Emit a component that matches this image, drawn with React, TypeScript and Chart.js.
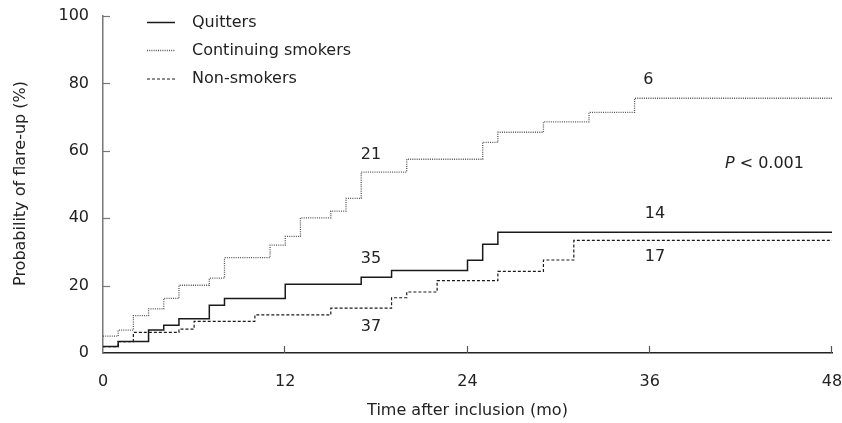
import React, { useEffect, useRef } from "react";
import { Chart, registerables } from "chart.js";

Chart.register(...registerables);

const FONT = '"DejaVu Sans", Verdana, sans-serif';
const TEXT = "#222222";

// Kaplan-Meier step data (month at which value starts, cumulative %)
const quitterMonths = [0, 1, 3, 4, 5, 7, 8, 12, 17, 19, 24, 25, 26, 48];
const quitterPct = [1.9, 3.4, 6.8, 8.2, 10.2, 14.2, 16.2, 20.4, 22.5, 24.5, 27.5, 32.3, 35.8, 35.8];

const smokerMonths = [0, 1, 2, 3, 4, 5, 7, 8, 11, 12, 13, 15, 16, 17, 20, 25, 26, 29, 32, 35, 48];
const smokerPct = [5.0, 6.8, 11.1, 13.1, 16.2, 20.1, 22.2, 28.3, 32.0, 34.6, 40.1, 42.1, 45.9, 53.7, 57.5, 62.5, 65.5, 68.6, 71.4, 75.6, 75.6];

const nonSmokerMonths = [0, 1, 2, 5, 6, 10, 15, 19, 20, 22, 26, 29, 31, 48];
const nonSmokerPct = [1.9, 3.4, 6.1, 7.1, 9.4, 11.3, 13.3, 16.4, 18.1, 21.5, 24.2, 27.6, 33.4, 33.4];

const seriesNames = ["Quitters", "Continuing smokers", "Non-smokers"];

const xTicks = [0, 12, 24, 36, 48];
const yTicks = [0, 20, 40, 60, 80, 100];

// numbers at risk annotations
const riskLabels = ["21", "35", "37", "6", "14", "17"];
const riskMonths = [17.64, 17.64, 17.64, 35.9, 36.34, 36.34];
const riskPct = [58.8, 27.9, 7.7, 81.0, 41.2, 28.5];

const pValueText = " < 0.001";
const pValueMonth = 40.95;
const pValuePct = 56.2;

const xTitle = "Time after inclusion (mo)";
const yTitle = "Probability of flare-up (%)";

export default function App() {
  const ref = useRef<HTMLCanvasElement>(null);

  useEffect(() => {
    const canvas = ref.current;
    if (!canvas) return;
    const toXY = (xs: number[], ys: number[]) => xs.map((x, i) => ({ x, y: ys[i] }));

    const styles = [
      { color: "#1a1a1a", width: 1.5, dash: [] as number[] },
      { color: "#555555", width: 1.3, dash: [1, 1.2] },
      { color: "#1a1a1a", width: 1.2, dash: [3, 2] },
    ];
    const datas = [
      toXY(quitterMonths, quitterPct),
      toXY(smokerMonths, smokerPct),
      toXY(nonSmokerMonths, nonSmokerPct),
    ];

    const decor = {
      id: "decor",
      afterDraw(chart: any) {
        const ctx = chart.ctx as CanvasRenderingContext2D;
        const xs = chart.scales.x;
        const ys = chart.scales.y;
        const area = chart.chartArea;
        ctx.save();
        // inward ticks
        ctx.lineWidth = 1.2;
        ctx.strokeStyle = "#777777";
        yTicks.forEach((v) => {
          if (v === 0) return;
          const py = Math.round(ys.getPixelForValue(v)) + 0.5;
          ctx.beginPath();
          ctx.moveTo(area.left, py);
          ctx.lineTo(area.left + 7, py);
          ctx.stroke();
        });
        ctx.strokeStyle = "#555555";
        xTicks.forEach((v) => {
          if (v === 0) return;
          const px = Math.round(xs.getPixelForValue(v)) - 0.5;
          ctx.beginPath();
          ctx.moveTo(px, area.bottom);
          ctx.lineTo(px, area.bottom - 7);
          ctx.stroke();
        });

        // legend
        ctx.font = `16px ${FONT}`;
        ctx.textBaseline = "middle";
        ctx.textAlign = "left";
        const rowY = [22.5, 50.5, 79];
        seriesNames.forEach((name, i) => {
          const st = styles[i];
          ctx.strokeStyle = st.color;
          ctx.lineWidth = st.width;
          ctx.setLineDash(st.dash);
          ctx.beginPath();
          ctx.moveTo(147, rowY[i]);
          ctx.lineTo(175, rowY[i]);
          ctx.stroke();
          ctx.setLineDash([]);
          ctx.fillStyle = TEXT;
          ctx.fillText(name, 192, rowY[i]);
        });

        // risk numbers
        ctx.textAlign = "center";
        riskLabels.forEach((t, i) => {
          ctx.fillText(t, xs.getPixelForValue(riskMonths[i]), ys.getPixelForValue(riskPct[i]));
        });

        // p value
        ctx.textAlign = "left";
        const px = xs.getPixelForValue(pValueMonth);
        const py = ys.getPixelForValue(pValuePct);
        ctx.font = `italic 16px ${FONT}`;
        ctx.fillText("P", px, py);
        const w = ctx.measureText("P").width;
        ctx.font = `16px ${FONT}`;
        ctx.fillText(pValueText, px + w, py);

        // axis titles
        ctx.textAlign = "center";
        ctx.fillText(xTitle, (area.left + area.right) / 2, 411);
        ctx.translate(21, (area.top + area.bottom) / 2 - 1);
        ctx.rotate(-Math.PI / 2);
        ctx.fillText(yTitle, 0, 0);
        ctx.restore();
      },
    };

    const chart = new Chart(canvas, {
      type: "line",
      data: {
        datasets: datas.map((d, i) => ({
          label: seriesNames[i],
          data: d,
          stepped: true,
          borderColor: styles[i].color,
          borderWidth: styles[i].width,
          borderDash: styles[i].dash,
          pointRadius: 0,
          fill: false,
        })),
      },
      options: {
        responsive: false,
        animation: false,
        devicePixelRatio: 1,
        layout: { padding: { top: 16, right: 10, left: 0, bottom: 0 } },
        plugins: { legend: { display: false }, tooltip: { enabled: false } },
        scales: {
          x: {
            type: "linear",
            min: 0,
            max: 48,
            afterBuildTicks: (s: any) => {
              s.ticks = xTicks.map((v) => ({ value: v }));
            },
            ticks: { font: { family: FONT, size: 16 }, color: TEXT, padding: 19, maxRotation: 0, autoSkip: false },
            grid: { display: false, drawTicks: false },
            border: { display: true, color: "#222222", width: 1.5 },
            afterFit: (s: any) => {
              s.height = 70;
              s.paddingLeft = 0;
              s.paddingRight = 0;
            },
          },
          y: {
            type: "linear",
            min: 0,
            max: 100,
            afterBuildTicks: (s: any) => {
              s.ticks = yTicks.map((v) => ({ value: v }));
            },
            ticks: { font: { family: FONT, size: 16 }, color: TEXT, padding: 14, autoSkip: false },
            grid: { display: false, drawTicks: false },
            border: { display: true, color: "#777777", width: 1.5 },
            afterFit: (s: any) => {
              s.width = 103;
              s.paddingTop = 0;
              s.paddingBottom = 0;
            },
          },
        },
      } as any,
      plugins: [decor],
    });
    return () => chart.destroy();
  }, []);

  return (
    <div style={{ position: "absolute", left: 0, top: 0, width: 842, height: 423, background: "#ffffff" }}>
      <canvas ref={ref} width={842} height={423} style={{ display: "block", width: 842, height: 423 }} />
    </div>
  );
}
